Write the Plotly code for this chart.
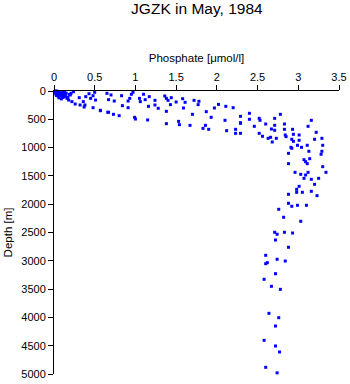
import plotly.graph_objects as go

phosphate = [
    0.01, 0.02, 0.03, 0.04, 0.05, 0.06, 0.07, 0.08, 0.09, 0.10, 0.12, 0.13, 0.15, 0.02, 0.04, 0.06,
    0.08, 0.10, 0.12, 0.03, 0.05, 0.07, 0.09, 0.11, 0.14, 0.17, 0.19, 0.21, 0.06, 0.09,
    0.11, 0.14, 0.16, 0.18, 0.22, 0.26, 0.32, 0.37, 0.48, 0.57, 0.67, 0.73, 0.80, 1.00,
    0.43, 0.50, 0.45, 0.31, 0.39, 0.51, 0.48, 0.24, 0.20, 0.36, 0.38, 0.65, 0.67, 0.74,
    0.70, 0.83, 0.91, 0.93, 0.95, 0.97, 1.05, 1.06, 0.84, 0.91, 0.57, 0.66, 0.99, 1.15,
    1.10, 1.17, 1.12, 1.24, 1.36, 1.38, 1.40, 1.44, 1.50, 1.58, 1.61, 1.72, 1.78, 1.77,
    1.24, 1.16, 1.28, 1.43, 1.59, 1.38, 1.38, 1.53, 1.54, 1.67, 1.70, 1.87, 1.93, 1.97,
    2.02, 2.11, 2.10, 1.86, 1.83, 1.90, 2.12, 2.29,
    2.20, 2.29, 2.40, 2.40, 2.52, 2.53, 2.23, 2.23, 2.29, 2.29, 2.46, 2.60, 2.71, 2.78,
    2.71, 2.67, 2.71, 2.52, 2.56, 2.63, 2.66, 2.73, 2.68, 2.83, 2.83, 2.84, 2.85, 2.94,
    2.93, 2.92, 2.94, 3.01, 3.01, 2.99, 3.04, 2.91, 2.92, 3.11, 3.13, 3.16, 3.12, 3.22,
    3.20, 3.29, 3.30, 3.29, 3.28, 2.88, 2.88, 3.07, 3.09, 3.11, 3.14,
    3.30, 2.96, 3.03, 3.09, 3.12, 3.07, 3.16, 3.25, 3.34, 3.20, 3.01, 2.98, 2.98, 3.05,
    3.16, 3.23, 2.88, 2.88, 2.92, 2.99, 3.10, 2.76, 2.82, 3.03,
    2.71, 2.74, 2.83, 2.93, 2.72, 2.88, 2.60, 2.74, 2.84, 2.62, 2.60, 2.72, 2.58, 2.67,
    2.78, 2.64, 2.76, 2.72, 2.58, 2.72, 2.77, 2.60, 2.74,
]

depth = [
    5, 10, 0, 15, 20, 8, 25, 12, 30, 18, 35, 22, 40, 50, 45, 55,
    60, 65, 50, 80, 90, 75, 85, 95, 70, 110, 60, 40, 120, 140,
    115, 100, 130, 160, 188, 230, 247, 283, 295, 341, 376, 412, 436, 495,
    48, 23, 130, 118, 100, 160, 83, 12, 70, 188, 247, 41, 153, 177,
    70, 83, 177, 130, 58, 23, 130, 188, 259, 295, 348, 376, 465, 512,
    58, 100, 153, 165, 88, 130, 165, 118, 194, 136, 200, 165, 182, 241,
    247, 271, 306, 241, 300, 359, 577, 536, 595, 607, 412, 365, 465, 300,
    236, 271, 518, 607, 660, 677, 701, 560,
    295, 447, 394, 500, 483, 518, 677, 748, 571, 748, 624, 583, 483, 412,
    606, 671, 694, 748, 800, 836, 818, 836, 901, 583, 677, 777, 807, 765,
    677, 853, 889, 777, 871, 959, 995, 995, 1012, 959, 1065, 518, 624, 730,
    853, 836, 959, 1065, 1118, 1101, 1284, 1214, 1249, 1284, 1196,
    1337, 1437, 1472, 1484, 1437, 1543, 1560, 1543, 1437, 1649, 1684, 1737, 1790, 1790,
    1772, 1849, 1825, 1984, 2037, 2019, 2019, 2090, 2231, 2302,
    2496, 2531, 2496, 2509, 2633, 2761, 2903, 2973, 3004, 3033, 3051, 3228, 3327, 3451,
    3504, 3928, 4005, 4152, 4405, 4505, 4611, 4882, 4980,
]

x_ticks = [0, 0.5, 1, 1.5, 2, 2.5, 3, 3.5]
y_ticks = [0, 500, 1000, 1500, 2000, 2500, 3000, 3500, 4000, 4500, 5000]

fig = go.Figure()
fig.add_trace(go.Scatter(
    x=phosphate, y=depth, mode="markers",
    marker=dict(symbol="square", size=3, color="#0000ff", line=dict(width=0)),
    cliponaxis=False, showlegend=False,
))

font = "Liberation Sans, Arial, sans-serif"
fig.update_layout(
    width=350, height=384,
    margin=dict(l=54, r=11, t=91, b=10, autoexpand=False),
    paper_bgcolor="white", plot_bgcolor="white",
    font=dict(family=font, size=11, color="black"),
    title=dict(text="JGZK in May, 1984", x=0.5625, xanchor="center", y=1 - 9 / 384,
               yanchor="middle", font=dict(size=15.5, family=font, color="black")),
    xaxis=dict(
        side="top", range=[0, 3.5], tickvals=x_ticks, ticktext=[f"{v:g}" for v in x_ticks],
        ticks="outside", ticklen=5, tickcolor="black", showline=True, linecolor="black",
        linewidth=1, showgrid=False, zeroline=False, automargin=False,
        title=dict(text="Phosphate [μmol/l]", standoff=5, font=dict(size=11.5)),
    ),
    yaxis=dict(
        range=[5000, 0], tickvals=y_ticks, ticktext=[str(v) for v in y_ticks],
        ticks="outside", ticklen=5, tickcolor="black", showline=True, linecolor="black",
        linewidth=1, showgrid=False, zeroline=False, automargin=False,
        title=dict(text="Depth [m]", standoff=6, font=dict(size=11.5)),
    ),
)

fig.write_html("out.html")
